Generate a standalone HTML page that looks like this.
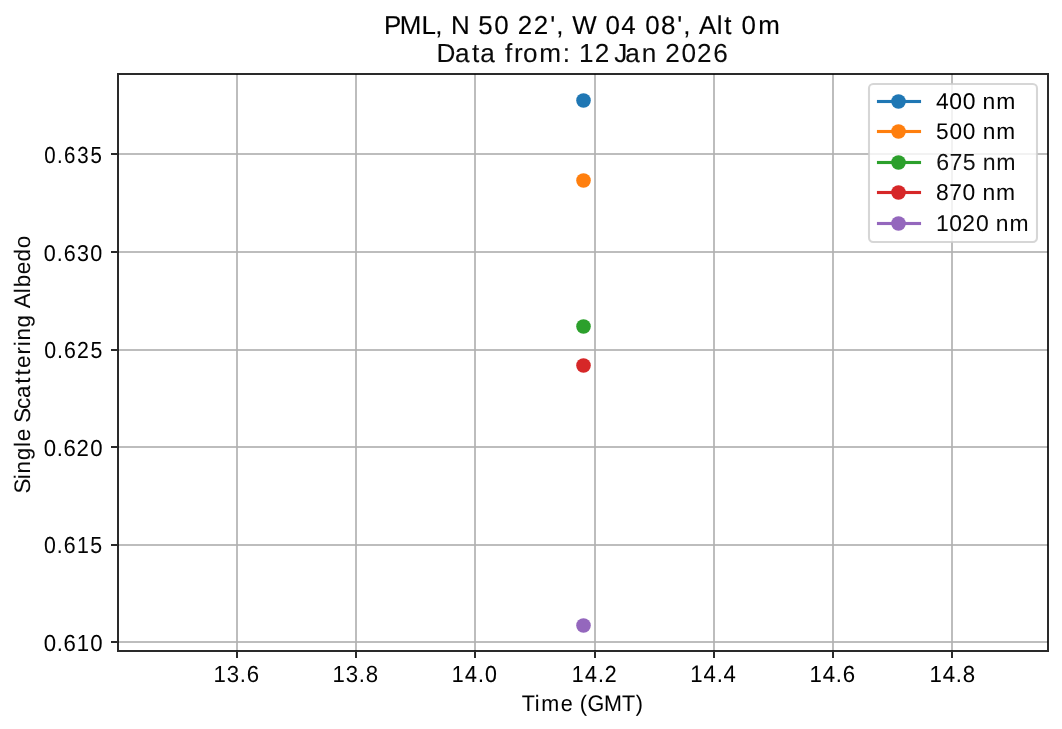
<!DOCTYPE html>
<html><head><meta charset="utf-8"><title>Single Scattering Albedo</title><style>
html,body{margin:0;padding:0;background:#fff;overflow:hidden;}
svg{display:block;will-change:transform;}
text{font-family:"Liberation Sans", sans-serif;text-rendering:geometricPrecision;}
</style></head><body>
<svg width="1062" height="729" viewBox="0 0 1062 729">
<rect x="0" y="0" width="1062" height="729" fill="#fff"/>
<g shape-rendering="crispEdges" fill="#b0b0b0" fill-opacity="0.835">
<rect x="236" y="74" width="2" height="577"/><rect x="355" y="74" width="2" height="577"/><rect x="474" y="74" width="2" height="577"/><rect x="594" y="74" width="2" height="577"/><rect x="713" y="74" width="2" height="577"/><rect x="832" y="74" width="2" height="577"/><rect x="951" y="74" width="2" height="577"/>
<rect x="118" y="641" width="930" height="2"/><rect x="118" y="544" width="930" height="2"/><rect x="118" y="446" width="930" height="2"/><rect x="118" y="349" width="930" height="2"/><rect x="118" y="251" width="930" height="2"/><rect x="118" y="153" width="930" height="2"/>
</g>
<g>
<circle cx="583.5" cy="100.5" r="7.31" fill="#1f77b4"/><circle cx="583.5" cy="180.5" r="7.31" fill="#ff7f0e"/><circle cx="583.5" cy="326.5" r="7.31" fill="#2ca02c"/><circle cx="583.5" cy="365.5" r="7.31" fill="#d62728"/><circle cx="583.5" cy="625.5" r="7.31" fill="#9467bd"/>
</g>
<g shape-rendering="crispEdges" fill="#000" fill-opacity="0.835">
<rect x="117" y="73" width="2" height="579"/><rect x="1047" y="73" width="2" height="579"/><rect x="119" y="73" width="928" height="2"/><rect x="119" y="650" width="928" height="2"/>
<rect x="111" y="641" width="6" height="2"/><rect x="111" y="544" width="6" height="2"/><rect x="111" y="446" width="6" height="2"/><rect x="111" y="349" width="6" height="2"/><rect x="111" y="251" width="6" height="2"/><rect x="111" y="153" width="6" height="2"/>
<rect x="236" y="652" width="2" height="6"/><rect x="355" y="652" width="2" height="6"/><rect x="474" y="652" width="2" height="6"/><rect x="594" y="652" width="2" height="6"/><rect x="713" y="652" width="2" height="6"/><rect x="832" y="652" width="2" height="6"/><rect x="951" y="652" width="2" height="6"/>
</g>
<g fill="#000">
<text transform="translate(384.589 33.688)" x="-0.69 15.07 36.93 50.69 57.89 66.45 85.17 93.76 109.76 124.18 133.28 149.19 165.65 171.67 178.88 187.57 212.04 220.86 236.76 251.17 260.61 276.52 292.65 298.68 305.88 314.35 332.15 339.74 346.94 356.99 373.60" y="0" font-size="25.92" stroke="#000" stroke-width="0.126">PML, N 50 22&#39;, W 04 08&#39;, Alt 0m</text>
<text transform="translate(436.35 61.548)" x="0.21 18.69 35.77 43.81 58.37 68.72 77.70 86.59 102.85 126.45 133.72 142.77 158.48 173.04 178.03 188.81 205.38 219.94 228.82 245.05 260.63 276.87" y="0" font-size="26.179" fill="#0a0a0a" stroke="#000" stroke-width="0.082">Data from: 12 Jan 2026</text>
<text transform="translate(43.22 650.577) scale(0.9600 1)" x="0.46 14.06 21.21 34.93 48.88" y="0" font-size="23.136" stroke="#000" stroke-width="0.03">0.610</text>
<text transform="translate(43.22 552.561) scale(0.9216 1)" x="0.75 14.78 22.37 36.66 51.10" y="0" font-size="23.136" fill="#050505" stroke="#000" stroke-width="0.042">0.615</text>
<text transform="translate(43.22 455.563) scale(0.9600 1)" x="0.46 14.06 21.21 34.76 48.88" y="0" font-size="23.136" stroke="#000" stroke-width="0.007">0.620</text>
<text transform="translate(43.47 357.552) scale(0.9216 1)" x="0.75 14.78 22.37 36.48 51.10" y="0" font-size="23.136" stroke="#000" stroke-width="0.022">0.625</text>
<text transform="translate(43.22 260.557) scale(0.9400 1)" x="0.68 14.46 21.87 36.02 50.12" y="0" font-size="22.902" stroke="#000" stroke-width="0.037">0.630</text>
<text transform="translate(43.22 162.524) scale(0.8847 1)" x="1.05 15.53 23.57 38.60 53.49" y="0" font-size="23.136" stroke="#000" stroke-width="0.065">0.635</text>
<text transform="translate(213.109 681.632) scale(0.9600 1)" x="0.34 14.33 27.89 35.05" y="0" font-size="23.136" fill="#060606">13.6</text>
<text transform="translate(332.107 681.531) scale(0.9600 1)" x="0.34 14.33 27.89 35.05" y="0" font-size="23.136" fill="#030303">13.8</text>
<text transform="translate(451.082 681.61) scale(0.9216 1)" x="0.64 15.16 29.19 36.78" y="0" font-size="23.133" stroke="#000" stroke-width="0.118">14.0</text>
<text transform="translate(571.111 681.698) scale(0.9216 1)" x="0.64 15.16 29.19 36.48" y="0" font-size="23.136" stroke="#000" stroke-width="0.081">14.2</text>
<text transform="translate(689.86 681.527) scale(0.9216 1)" x="0.37 14.90 29.06 36.51" y="0" font-size="24.07" stroke="#000" stroke-width="0.008">14.4</text>
<text transform="translate(809.109 681.587) scale(0.9600 1)" x="0.34 14.30 27.89 35.05" y="0" font-size="23.136" stroke="#000" stroke-width="0.035">14.6</text>
<text transform="translate(929.107 681.627) scale(0.9600 1)" x="0.34 14.30 27.89 35.05" y="0" font-size="23.136" stroke="#000" stroke-width="0.042">14.8</text>
<text transform="translate(522.025 710.517) scale(0.9600 1)" x="-0.22 13.16 19.95 40.33 52.81 60.08 68.30 85.50 104.02 118.59" y="0" font-size="22.441" stroke="#000" stroke-width="0.034">Time (GMT)</text>
<text transform="translate(29.643 492.86) rotate(-90)" x="-0.76 13.66 19.46 32.54 45.93 51.54 64.02 70.05 83.93 94.89 109.24 117.43 124.91 138.48 146.54 152.33 165.41 177.89 184.68 199.72 205.62 218.58 231.47 244.61" y="0" font-size="22.433" fill="#090909" stroke="#000" stroke-width="0.053">Single Scattering Albedo</text>
</g>
<g>
<rect x="869" y="84" width="168" height="158" rx="4.17" ry="4.17" fill="#fff" fill-opacity="0.8" stroke="#ccc" stroke-opacity="0.8" stroke-width="2.083"/>
<rect x="876.94" y="99.9375" width="44.12" height="3.125" fill="#1f77b4"/><circle cx="898.5" cy="101.5" r="7.31" fill="#1f77b4"/>
<rect x="876.94" y="129.9375" width="44.12" height="3.125" fill="#ff7f0e"/><circle cx="898.5" cy="131.5" r="7.31" fill="#ff7f0e"/>
<rect x="876.94" y="160.9375" width="44.12" height="3.125" fill="#2ca02c"/><circle cx="898.5" cy="162.5" r="7.31" fill="#2ca02c"/>
<rect x="876.94" y="190.9375" width="44.12" height="3.125" fill="#d62728"/><circle cx="898.5" cy="192.5" r="7.31" fill="#d62728"/>
<rect x="876.94" y="221.9375" width="44.12" height="3.125" fill="#9467bd"/><circle cx="898.5" cy="223.5" r="7.31" fill="#9467bd"/>
<g fill="#000">
<text transform="translate(935.83 108.55)" x="0.25 13.53 26.82 39.55 46.76 60.37" y="0" font-size="22.904">400 nm</text>
<text transform="translate(935.83 138.51)" x="0.24 13.60 26.88 39.49 46.82 60.47" y="0" font-size="22.673">500 nm</text>
<text transform="translate(936.08 169.537)" x="0.19 13.43 26.67 39.54 46.69 60.28" y="0" font-size="23.136" fill="#111111">675 nm</text>
<text transform="translate(935.68 199.592)" x="0.25 13.49 26.82 39.55 46.76 60.37" y="0" font-size="22.904" fill="#040404">870 nm</text>
<text transform="translate(935.83 230.527)" x="0.13 13.53 26.54 40.10 52.84 60.04 73.65" y="0" font-size="22.904" fill="#090909">1020 nm</text>
</g>
</g>
</svg>
</body></html>
